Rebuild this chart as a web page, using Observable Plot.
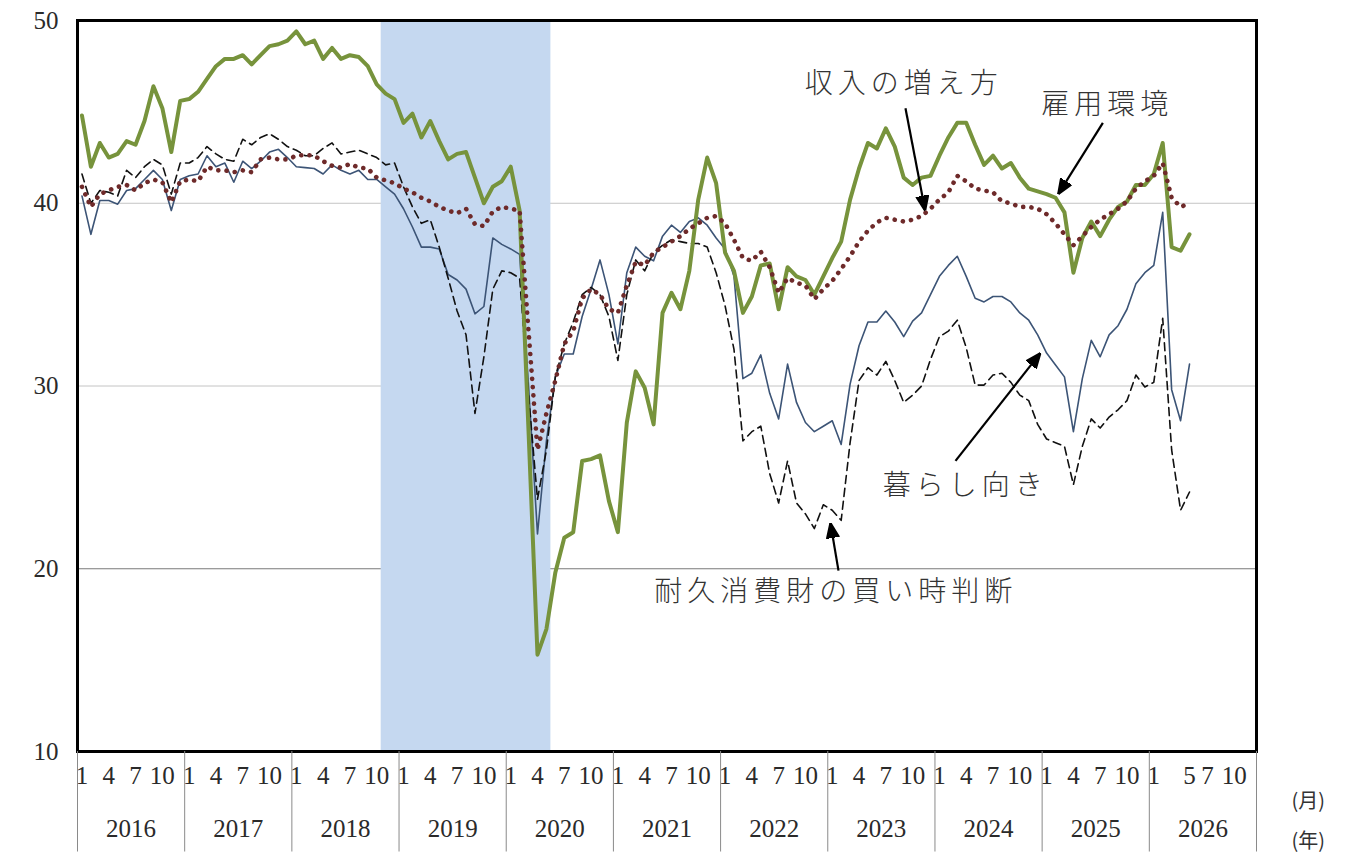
<!DOCTYPE html>
<html>
<head>
<meta charset="utf-8">
<script src="https://cdn.jsdelivr.net/npm/d3@7"></script>
<script src="https://cdn.jsdelivr.net/npm/@observablehq/plot@0.6"></script>
<style>
  html, body { margin: 0; padding: 0; background: #fff; }
  #chart svg { display: block; }
  .jp text { letter-spacing: 5px; }
</style>
</head>
<body>
<div id="chart"></div>
<script>
// ---------------- data ----------------
const startYear = 2016;                 // first month = Jan 2016
const years = [2016, 2017, 2018, 2019, 2020, 2021, 2022, 2023, 2024, 2025, 2026];
const monthTickLabels = [
  [1,4,7,10],[1,4,7,10],[1,4,7,10],[1,4,7,10],[1,4,7,10],[1,4,7,10],
  [1,4,7,10],[1,4,7,10],[1,4,7,10],[1,4,7,10],[1,5,7,10]
];
const recessionStart = "2018-11";
const recessionEnd = "2020-05";
const yTicks = [10, 20, 30, 40, 50];
const gridLight = [30, 40];
const gridDark = [20];

// 雇用環境
const employment = [
  44.8,42.0,43.3,42.5,42.7,43.4,43.2,44.5,46.4,45.2,42.8,45.6,
  45.7,46.1,46.8,47.5,47.9,47.9,48.1,47.6,48.1,48.6,48.7,48.9,
  49.4,48.7,48.9,47.9,48.5,47.9,48.1,48.0,47.5,46.5,46.0,45.7,
  44.4,44.9,43.6,44.5,43.4,42.4,42.7,42.8,41.4,40.0,40.9,41.2,
  42.0,39.6,27.5,15.3,16.7,19.8,21.7,22.0,25.9,26.0,26.2,23.7,
  22.0,28.0,30.8,29.9,27.9,34.0,35.1,34.2,36.3,40.2,42.5,41.1,
  37.3,36.3,34.0,34.9,36.6,36.7,34.2,36.5,36.0,35.8,35.0,36.0,
  37.0,37.9,40.2,41.9,43.3,43.0,44.1,43.1,41.4,41.0,41.4,41.5,
  42.6,43.6,44.4,44.4,43.2,42.1,42.6,41.9,42.2,41.4,40.8,40.65,
  40.5,40.3,39.5,36.2,38.1,39.0,38.2,39.1,39.8,40.1,41.0,41.0,
  41.6,43.3,37.6,37.4,38.3
];
// 暮らし向き
const livelihood = [
  40.4,38.3,40.15,40.15,39.95,40.7,40.8,41.3,41.8,41.3,39.6,41.3,
  41.5,41.6,42.6,42.0,42.2,41.15,42.3,41.9,42.3,42.8,42.95,42.5,
  42.0,41.95,41.9,41.6,42.1,41.8,41.6,41.8,41.3,41.3,40.9,40.5,
  39.7,38.7,37.6,37.6,37.5,36.1,35.8,35.3,33.95,34.35,38.1,37.75,
  37.5,37.2,30.0,21.9,27.0,30.5,31.75,31.75,33.8,35.3,36.9,35.0,
  32.3,36.2,37.6,37.1,36.85,38.2,38.8,38.4,39.0,39.2,38.8,38.1,
  37.5,36.0,30.4,30.7,31.7,29.6,28.2,31.2,29.1,28.0,27.5,27.8,
  28.1,26.8,30.1,32.2,33.5,33.5,34.1,33.5,32.7,33.55,34.0,35.0,
  36.0,36.6,37.1,36.0,34.8,34.6,34.9,34.9,34.6,34.0,33.6,32.8,
  31.8,31.15,30.5,27.5,30.4,32.5,31.6,32.8,33.3,34.2,35.6,36.2,
  36.6,39.5,29.8,28.1,31.2
];
// 耐久消費財の買い時判断
const durables = [
  41.6,40.0,40.7,40.6,40.4,41.8,41.4,42.0,42.4,42.1,40.5,42.2,
  42.2,42.5,43.1,42.7,42.4,42.3,43.5,43.2,43.6,43.8,43.5,43.1,
  42.9,42.6,42.6,43.0,43.3,42.7,42.8,42.9,42.7,42.5,42.1,42.2,
  40.9,39.8,38.9,39.1,37.6,35.9,34.1,32.8,28.5,31.6,35.3,36.3,
  36.2,35.9,29.5,23.8,26.5,30.5,32.3,33.5,35.0,35.4,35.0,33.8,
  31.4,35.0,36.9,36.3,37.3,37.7,38.0,37.9,37.8,37.8,37.6,36.2,
  34.4,32.0,27.0,27.5,27.8,25.2,23.6,25.9,23.6,23.0,22.2,23.5,
  23.2,22.65,26.9,30.3,31.0,30.6,31.35,30.3,29.1,29.5,30.0,31.45,
  32.7,33.0,33.6,32.1,30.05,30.05,30.6,30.7,30.2,29.5,29.2,27.9,
  27.1,26.9,26.7,24.6,26.7,28.2,27.7,28.3,28.7,29.2,30.6,29.95,
  30.2,33.7,26.5,23.2,24.2
];
// 収入の増え方
const income = [
  40.9,39.8,40.5,40.7,40.9,41.0,40.7,41.1,41.3,41.15,40.05,41.2,
  41.3,41.2,42.0,41.8,41.8,41.7,41.8,41.7,42.4,42.5,42.4,42.4,
  42.6,42.65,42.6,42.3,42.05,41.95,42.15,41.95,41.9,41.4,41.25,41.1,
  40.8,40.6,40.3,40.1,39.8,39.6,39.45,39.7,38.85,38.75,39.55,39.8,
  39.7,39.6,33.0,26.5,28.5,30.3,32.3,33.0,34.8,35.3,35.0,34.2,
  34.0,35.5,36.8,36.6,37.3,37.6,37.9,38.2,38.6,38.9,39.2,39.3,
  38.9,38.0,37.0,36.85,37.35,36.5,35.1,35.9,35.65,35.5,34.75,35.3,
  35.75,36.4,37.1,37.9,38.5,38.95,39.2,39.1,39.0,39.1,39.3,39.7,
  40.2,40.6,41.5,41.2,40.8,40.7,40.6,40.1,40.0,39.8,39.8,39.7,
  39.4,38.9,38.3,37.7,38.2,38.7,39.1,39.4,39.7,40.1,40.8,41.2,
  41.5,42.2,40.3,39.8,40.0
];

// annotation labels (position in data coordinates: month index, value)
const labelTexts = ["収入の増え方", "雇用環境", "暮らし向き", "耐久消費財の買い時判断"];
const labelX = [92.0, 114.8, 98.9, 84.4];
const labelY = [46.5, 45.4, 24.55, 18.7];
const arrowFromX = [92.2, 114.3, 97.8, 84.7];
const arrowFromY = [45.2, 44.4, 25.9, 19.9];
const arrowToX = [94.4, 109.3, 107.3, 83.8];
const arrowToY = [39.6, 40.5, 31.8, 22.5];

// ---------------- build ----------------
const monthIndex = s => { const [y, m] = s.split("-").map(Number); return (y - startYear) * 12 + (m - 1); };
const rows = arr => arr.map((v, i) => ({i, v}));
const nMonths = years.length * 12;

const band = [{x1: monthIndex(recessionStart) - 0.5, x2: monthIndex(recessionEnd) + 0.5}];
const monthLabelRows = years.flatMap((yr, yi) => monthTickLabels[yi].map(m => ({i: yi * 12 + m - 1, label: String(m)})));
const yearRows = years.map((yr, yi) => ({i: yi * 12 + 5.5, label: String(yr)}));
const separators = d3.range(years.length + 1).map(k => k * 12 - 0.5);
const labels = labelTexts.map((t, k) => ({t, x: labelX[k], y: labelY[k]}));
const arrows = arrowFromX.map((_, k) => ({x1: arrowFromX[k], y1: arrowFromY[k], x2: arrowToX[k], y2: arrowToY[k]}));

function filledArrow(color) {
  const ns = "http://www.w3.org/2000/svg";
  const m = document.createElementNS(ns, "marker");
  m.setAttribute("viewBox", "-15 -7 15 14");
  m.setAttribute("markerWidth", "15");
  m.setAttribute("markerHeight", "14");
  m.setAttribute("markerUnits", "userSpaceOnUse");
  m.setAttribute("orient", "auto");
  m.setAttribute("refX", "0");
  m.setAttribute("refY", "0");
  const p = document.createElementNS(ns, "path");
  p.setAttribute("d", "M-15,-6L0,0L-15,6Z");
  p.setAttribute("fill", "black");
  m.appendChild(p);
  return m;
}

const serif = "'Liberation Serif', 'DejaVu Serif', serif";
const jp = "'Noto Sans CJK JP', 'Noto Sans', sans-serif";

const chart = Plot.plot({
  width: 1354,
  height: 854,
  marginLeft: 77,
  marginRight: 98,
  marginTop: 20,
  marginBottom: 103,
  x: {domain: [-0.5, nMonths - 0.5], axis: null},
  y: {domain: [10, 50], axis: null},
  style: {background: "white", fontFamily: serif, overflow: "visible"},
  marks: [
    Plot.ruleY(gridLight, {stroke: "#c4c4c4", strokeWidth: 1}),
    Plot.ruleY(gridDark, {stroke: "#7a7a7a", strokeWidth: 1}),
    Plot.rect(band, {x1: "x1", x2: "x2", y1: 10, y2: 50, fill: "#c5d8f0"}),
    Plot.line(rows(livelihood), {x: "i", y: "v", stroke: "#3c5476", strokeWidth: 1.6}),
    Plot.line(rows(durables), {x: "i", y: "v", stroke: "#111", strokeWidth: 1.6, strokeDasharray: "8,5"}),
    Plot.line(rows(employment), {x: "i", y: "v", stroke: "#77933c", strokeWidth: 4, strokeLinejoin: "round"}),
    Plot.line(rows(income), {x: "i", y: "v", stroke: "#6e2a2a", strokeWidth: 4.6, strokeDasharray: "0.1,8.2", strokeLinecap: "round"}),
    Plot.frame({stroke: "#000", strokeWidth: 3}),
    // y tick labels
    Plot.text(yTicks, {x: -0.5, y: d => d, text: d => String(d), textAnchor: "end", dx: -19, fontSize: 25, fill: "#2a2a2a", fontFamily: serif}),
    // month labels, year labels, separators
    Plot.text(monthLabelRows, {x: "i", text: "label", frameAnchor: "bottom", dy: 32, fontSize: 25, fill: "#2a2a2a", fontFamily: serif}),
    Plot.text(yearRows, {x: "i", text: "label", frameAnchor: "bottom", dy: 85, fontSize: 25, fill: "#2a2a2a", fontFamily: serif}),
    Plot.ruleX(separators, {x: d => d, y1: 10, y2: 4.5, stroke: "#8a8a8a", strokeWidth: 1}),
    Plot.text(["(月)"], {x: nMonths + 5.3, text: d => d, frameAnchor: "bottom", dy: 56, fontSize: 20, fill: "#333", fontFamily: jp}),
    Plot.text(["(年)"], {x: nMonths + 5.3, text: d => d, frameAnchor: "bottom", dy: 96, fontSize: 20, fill: "#333", fontFamily: jp}),
    // annotations
    Plot.link(arrows, {x1: "x1", y1: "y1", x2: "x2", y2: "y2", stroke: "black", strokeWidth: 2.2, markerEnd: filledArrow}),
    Plot.text(labels, {x: "x", y: "y", text: "t", fontSize: 28, fill: "#333", fontFamily: jp, fontWeight: 300, className: "jp"})
  ]
});

document.getElementById("chart").appendChild(chart);
</script>
</body>
</html>
